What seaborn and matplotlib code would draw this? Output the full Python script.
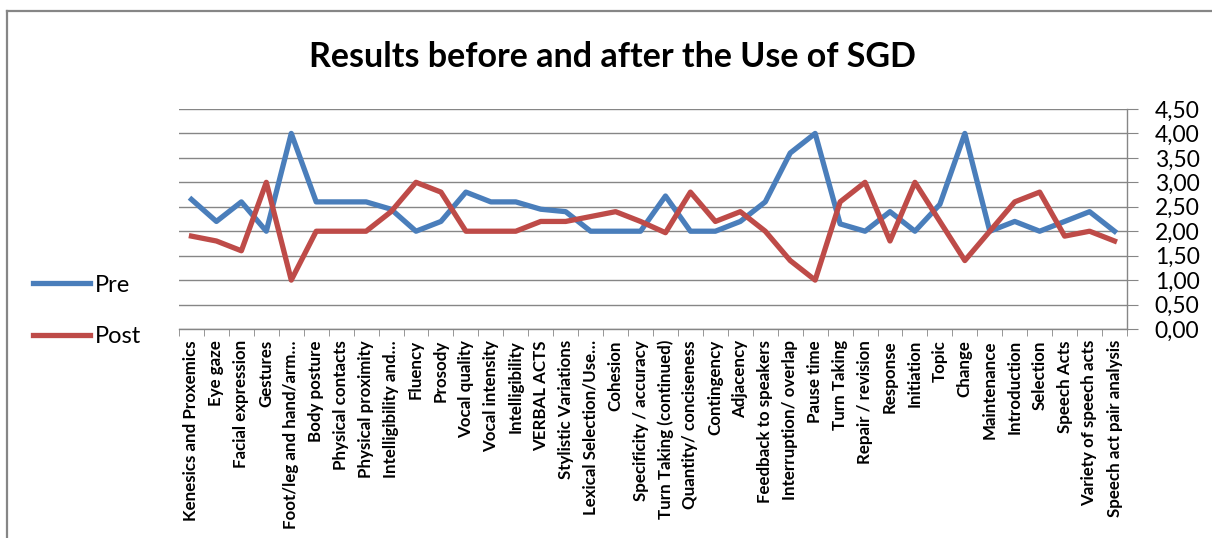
import matplotlib
matplotlib.use('Agg')
import matplotlib.pyplot as plt
import seaborn as sns
import pandas as pd
import numpy as np
from matplotlib import font_manager
from matplotlib.lines import Line2D

categories = [
    "Kenesics and Proxemics", "Eye gaze", "Facial expression", "Gestures",
    "Foot/leg and hand/arm…", "Body posture", "Physical contacts",
    "Physical proximity", "Intelligibility and…", "Fluency", "Prosody",
    "Vocal quality", "Vocal intensity", "Intelligibility", "VERBAL ACTS",
    "Stylistic Variations", "Lexical Selection/Use…", "Cohesion",
    "Specificity / accuracy", "Turn Taking (continued)", "Quantity/ conciseness",
    "Contingency", "Adjacency", "Feedback to speakers", "Interruption/ overlap",
    "Pause time", "Turn Taking", "Repair / revision", "Response", "Initiation",
    "Topic", "Change", "Maintenance", "Introduction", "Selection", "Speech Acts",
    "Variety of speech acts", "Speech act pair analysis",
]
pre = [2.65, 2.2, 2.6, 2.0, 4.0, 2.6, 2.6, 2.6, 2.45, 2.0, 2.2, 2.8, 2.6, 2.6,
       2.45, 2.4, 2.0, 2.0, 2.0, 2.72, 2.0, 2.0, 2.2, 2.6, 3.6, 4.0, 2.15, 2.0,
       2.4, 2.0, 2.55, 4.0, 2.0, 2.2, 2.0, 2.2, 2.4, 2.0]
post = [1.9, 1.8, 1.6, 3.0, 1.0, 2.0, 2.0, 2.0, 2.4, 3.0, 2.8, 2.0, 2.0, 2.0,
        2.2, 2.2, 2.3, 2.4, 2.2, 1.97, 2.8, 2.2, 2.4, 2.0, 1.4, 1.0, 2.6, 3.0,
        1.8, 3.0, 2.2, 1.4, 2.0, 2.6, 2.8, 1.9, 2.0, 1.8]
y_ticks = [0, 0.5, 1.0, 1.5, 2.0, 2.5, 3.0, 3.5, 4.0, 4.5]

df = pd.DataFrame({
    "category": categories * 2,
    "value": pre + post,
    "series": ["Pre"] * len(pre) + ["Post"] * len(post),
})
palette = {"Pre": "#4A7EBB", "Post": "#BE4B48"}

# pick a Calibri-like family that actually has a bold face installed
family = "DejaVu Sans"
for fam in ["Lato", "Open Sans", "Noto Sans", "Liberation Sans"]:
    faces = [f for f in font_manager.fontManager.ttflist if f.name == fam]
    if any(f.weight in (700, "bold") for f in faces):
        family = fam
        break
plt.rcParams['font.family'] = [family, 'DejaVu Sans']

fig = plt.figure(figsize=(12.12, 5.38), dpi=100)
ax = fig.add_axes([179 / 1212, (538 - 329) / 538, 948 / 1212, 220 / 538])

sns.lineplot(data=df, x="category", y="value", hue="series", palette=palette,
             linewidth=3.8, sort=False, ax=ax, legend=False)

n = len(categories)
ax.set_xlim(-0.5, n - 0.5)
ax.set_ylim(0, 4.5)
ax.set_xticks(range(n))
ax.set_xticklabels(categories, rotation=90, fontsize=12.2, fontweight='bold')
ax.set_xticks(np.arange(-0.5, n, 1.0), minor=True)
ax.tick_params(axis='x', which='major', length=0, pad=8)
ax.tick_params(axis='x', which='minor', length=5, color='#868686')
ax.set_xlabel("")
ax.set_ylabel("")

ax.yaxis.tick_right()
ax.set_yticks(y_ticks)
ax.set_yticklabels([f"{v:.2f}".replace(".", ",") for v in y_ticks], fontsize=16.5)
ax.tick_params(axis='y', length=8, color='#868686', pad=12)
ax.grid(axis='y', color='#868686', linewidth=1.0)
ax.set_axisbelow(True)

for side in ['top', 'left']:
    ax.spines[side].set_visible(False)
for side in ['right', 'bottom']:
    ax.spines[side].set_color('#868686')
    ax.spines[side].set_linewidth(1.0)

fig.text(612 / 1212, 1 - 57 / 538, "Results before and after the Use of SGD",
         ha='center', va='center', fontsize=24.5, fontweight='bold')

handles = [Line2D([0], [0], color=palette[s], linewidth=3.8) for s in ["Pre", "Post"]]
fig.legend(handles, ["Pre", "Post"], loc='center left',
           bbox_to_anchor=(24 / 1212, 1 - 311 / 538), frameon=False,
           fontsize=17, handlelength=2.4, labelspacing=1.3, handletextpad=0.2,
           borderaxespad=0)

# chart-area border, cropped on the right and bottom in the source
fig.add_artist(Line2D([7 / 1212, 7 / 1212], [0, 1 - 10.5 / 538],
                      transform=fig.transFigure, color='#868686', linewidth=1.6))
fig.add_artist(Line2D([7 / 1212, 1], [1 - 10.5 / 538, 1 - 10.5 / 538],
                      transform=fig.transFigure, color='#868686', linewidth=1.6))

fig.savefig("out.png", dpi=100)
plt.close(fig)
